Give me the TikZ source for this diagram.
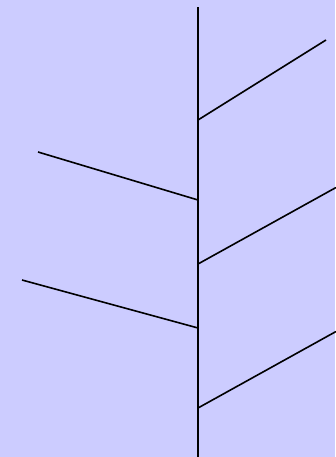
\documentclass[tikz,border=0pt]{standalone}
\definecolor{bg}{HTML}{CCCCFF}
\begin{document}
\begin{tikzpicture}[x=1pt,y=-1pt,line width=1.6pt,branch/.style={draw=black,line cap=butt}]
\fill[bg] (0,0) rectangle (335,457);
\useasboundingbox (0,0) rectangle (335,457);
\coordinate (top) at (198,7.5);
\coordinate (bot) at (198,457);
\coordinate (j1) at (198,120);
\coordinate (e1) at (326,40);
\coordinate (j2) at (198,200);
\coordinate (e2) at (38,152);
\coordinate (j3) at (198,264);
\coordinate (e3) at (336,187.5);
\coordinate (j4) at (198,328);
\coordinate (e4) at (22,280);
\coordinate (j5) at (198,408);
\coordinate (e5) at (336,331.5);
\draw[branch] (top) -- (bot);
\draw[branch] (j1) -- (e1);
\draw[branch] (j2) -- (e2);
\draw[branch] (j3) -- (e3);
\draw[branch] (j4) -- (e4);
\draw[branch] (j5) -- (e5);
\end{tikzpicture}
\end{document}
